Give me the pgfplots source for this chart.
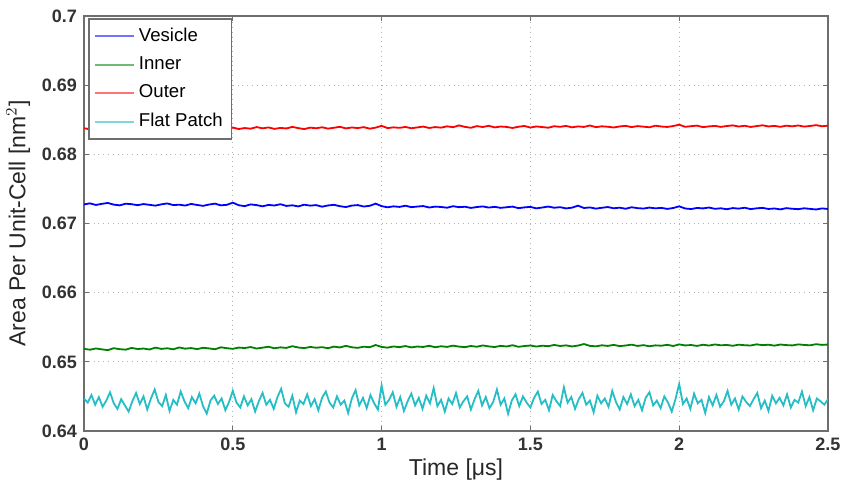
\documentclass[border=0pt]{standalone}
\usepackage{fontspec}
\setmainfont{Liberation Sans}
\usepackage{pgfplots}
\usepackage{pgfplotstable}
\pgfplotsset{compat=1.18}

\definecolor{mblue}{RGB}{0,0,255}
\definecolor{mgreen}{RGB}{0,128,0}
\definecolor{mred}{RGB}{255,0,0}
\definecolor{mcyan}{RGB}{38,190,198}
\definecolor{axgray}{RGB}{110,110,110}

% Vesicle, x = 0:0.02:2.5
\pgfplotstableread[row sep=\\]{
y\\
0.67276\\ 0.67291\\ 0.67268\\ 0.67284\\ 0.67297\\ 0.67273\\ 0.67262\\ 0.67286\\ 0.67279\\ 0.67265\\
0.67281\\ 0.67270\\ 0.67258\\ 0.67277\\ 0.67290\\ 0.67266\\ 0.67272\\ 0.67259\\ 0.67283\\ 0.67268\\
0.67255\\ 0.67274\\ 0.67287\\ 0.67262\\ 0.67270\\ 0.67301\\ 0.67264\\ 0.67251\\ 0.67276\\ 0.67266\\
0.67248\\ 0.67269\\ 0.67260\\ 0.67279\\ 0.67254\\ 0.67263\\ 0.67247\\ 0.67272\\ 0.67258\\ 0.67266\\
0.67243\\ 0.67261\\ 0.67270\\ 0.67250\\ 0.67238\\ 0.67259\\ 0.67266\\ 0.67245\\ 0.67256\\ 0.67287\\
0.67251\\ 0.67234\\ 0.67248\\ 0.67240\\ 0.67257\\ 0.67236\\ 0.67245\\ 0.67252\\ 0.67231\\ 0.67244\\
0.67239\\ 0.67228\\ 0.67250\\ 0.67236\\ 0.67242\\ 0.67225\\ 0.67238\\ 0.67247\\ 0.67230\\ 0.67241\\
0.67226\\ 0.67235\\ 0.67244\\ 0.67222\\ 0.67233\\ 0.67240\\ 0.67219\\ 0.67231\\ 0.67245\\ 0.67228\\
0.67236\\ 0.67218\\ 0.67229\\ 0.67258\\ 0.67224\\ 0.67232\\ 0.67215\\ 0.67227\\ 0.67238\\ 0.67220\\
0.67229\\ 0.67213\\ 0.67235\\ 0.67222\\ 0.67216\\ 0.67230\\ 0.67219\\ 0.67226\\ 0.67211\\ 0.67224\\
0.67248\\ 0.67217\\ 0.67209\\ 0.67225\\ 0.67218\\ 0.67231\\ 0.67212\\ 0.67220\\ 0.67206\\ 0.67223\\
0.67215\\ 0.67228\\ 0.67208\\ 0.67219\\ 0.67226\\ 0.67210\\ 0.67217\\ 0.67204\\ 0.67222\\ 0.67213\\
0.67207\\ 0.67220\\ 0.67211\\ 0.67203\\ 0.67218\\ 0.67210\\
}\vesicle

% Inner
\pgfplotstableread[row sep=\\]{
y\\
0.65188\\ 0.65175\\ 0.65193\\ 0.65180\\ 0.65169\\ 0.65197\\ 0.65183\\ 0.65176\\ 0.65201\\ 0.65185\\
0.65192\\ 0.65178\\ 0.65205\\ 0.65187\\ 0.65196\\ 0.65181\\ 0.65208\\ 0.65190\\ 0.65199\\ 0.65184\\
0.65203\\ 0.65194\\ 0.65182\\ 0.65210\\ 0.65197\\ 0.65188\\ 0.65206\\ 0.65199\\ 0.65214\\ 0.65192\\
0.65205\\ 0.65218\\ 0.65196\\ 0.65209\\ 0.65201\\ 0.65226\\ 0.65207\\ 0.65198\\ 0.65215\\ 0.65204\\
0.65212\\ 0.65197\\ 0.65220\\ 0.65208\\ 0.65231\\ 0.65210\\ 0.65202\\ 0.65219\\ 0.65211\\ 0.65243\\
0.65215\\ 0.65205\\ 0.65222\\ 0.65212\\ 0.65228\\ 0.65209\\ 0.65221\\ 0.65215\\ 0.65232\\ 0.65211\\
0.65225\\ 0.65216\\ 0.65234\\ 0.65220\\ 0.65212\\ 0.65229\\ 0.65218\\ 0.65237\\ 0.65223\\ 0.65214\\
0.65231\\ 0.65222\\ 0.65240\\ 0.65217\\ 0.65228\\ 0.65236\\ 0.65221\\ 0.65233\\ 0.65226\\ 0.65244\\
0.65229\\ 0.65238\\ 0.65222\\ 0.65235\\ 0.65257\\ 0.65231\\ 0.65224\\ 0.65239\\ 0.65230\\ 0.65245\\
0.65227\\ 0.65236\\ 0.65248\\ 0.65230\\ 0.65241\\ 0.65225\\ 0.65238\\ 0.65233\\ 0.65246\\ 0.65229\\
0.65252\\ 0.65237\\ 0.65243\\ 0.65230\\ 0.65247\\ 0.65235\\ 0.65251\\ 0.65239\\ 0.65244\\ 0.65232\\
0.65248\\ 0.65240\\ 0.65236\\ 0.65253\\ 0.65241\\ 0.65247\\ 0.65234\\ 0.65250\\ 0.65242\\ 0.65237\\
0.65252\\ 0.65244\\ 0.65239\\ 0.65255\\ 0.65245\\ 0.65250\\
}\inner

% Outer
\pgfplotstableread[row sep=\\]{
y\\
0.68378\\ 0.68362\\ 0.68385\\ 0.68370\\ 0.68356\\ 0.68381\\ 0.68367\\ 0.68390\\ 0.68372\\ 0.68359\\
0.68377\\ 0.68364\\ 0.68388\\ 0.68371\\ 0.68355\\ 0.68380\\ 0.68366\\ 0.68374\\ 0.68392\\ 0.68361\\
0.68378\\ 0.68369\\ 0.68383\\ 0.68358\\ 0.68375\\ 0.68387\\ 0.68366\\ 0.68380\\ 0.68371\\ 0.68394\\
0.68376\\ 0.68389\\ 0.68368\\ 0.68382\\ 0.68374\\ 0.68397\\ 0.68379\\ 0.68365\\ 0.68386\\ 0.68377\\
0.68391\\ 0.68372\\ 0.68384\\ 0.68398\\ 0.68375\\ 0.68388\\ 0.68380\\ 0.68393\\ 0.68371\\ 0.68386\\
0.68412\\ 0.68379\\ 0.68390\\ 0.68383\\ 0.68396\\ 0.68377\\ 0.68389\\ 0.68401\\ 0.68381\\ 0.68394\\
0.68386\\ 0.68405\\ 0.68392\\ 0.68418\\ 0.68397\\ 0.68384\\ 0.68408\\ 0.68395\\ 0.68413\\ 0.68389\\
0.68402\\ 0.68396\\ 0.68381\\ 0.68399\\ 0.68410\\ 0.68387\\ 0.68403\\ 0.68394\\ 0.68385\\ 0.68406\\
0.68398\\ 0.68411\\ 0.68390\\ 0.68404\\ 0.68396\\ 0.68417\\ 0.68393\\ 0.68405\\ 0.68399\\ 0.68388\\
0.68403\\ 0.68412\\ 0.68394\\ 0.68408\\ 0.68400\\ 0.68391\\ 0.68414\\ 0.68402\\ 0.68396\\ 0.68409\\
0.68428\\ 0.68398\\ 0.68407\\ 0.68415\\ 0.68393\\ 0.68404\\ 0.68411\\ 0.68397\\ 0.68409\\ 0.68419\\
0.68402\\ 0.68413\\ 0.68396\\ 0.68408\\ 0.68420\\ 0.68403\\ 0.68411\\ 0.68398\\ 0.68414\\ 0.68405\\
0.68417\\ 0.68401\\ 0.68410\\ 0.68422\\ 0.68406\\ 0.68414\\
}\outer

% Flat patch, x = 0:0.0125:2.5
\pgfplotstableread[row sep=\\]{
y\\
0.6447\\ 0.6441\\ 0.6452\\ 0.6438\\ 0.6449\\ 0.6435\\ 0.6444\\ 0.6456\\ 0.6440\\ 0.6432\\
0.6446\\ 0.6437\\ 0.6428\\ 0.6443\\ 0.6455\\ 0.6439\\ 0.6450\\ 0.6431\\ 0.6447\\ 0.6460\\
0.6442\\ 0.6436\\ 0.6452\\ 0.6429\\ 0.6445\\ 0.6438\\ 0.6457\\ 0.6443\\ 0.6433\\ 0.6449\\
0.6440\\ 0.6454\\ 0.6436\\ 0.6425\\ 0.6444\\ 0.6451\\ 0.6439\\ 0.6447\\ 0.6430\\ 0.6442\\
0.6458\\ 0.6441\\ 0.6434\\ 0.6450\\ 0.6437\\ 0.6446\\ 0.6428\\ 0.6443\\ 0.6455\\ 0.6438\\
0.6445\\ 0.6432\\ 0.6449\\ 0.6461\\ 0.6440\\ 0.6435\\ 0.6451\\ 0.6427\\ 0.6444\\ 0.6439\\
0.6453\\ 0.6436\\ 0.6446\\ 0.6430\\ 0.6448\\ 0.6457\\ 0.6441\\ 0.6434\\ 0.6450\\ 0.6438\\
0.6444\\ 0.6426\\ 0.6447\\ 0.6459\\ 0.6437\\ 0.6448\\ 0.6433\\ 0.6452\\ 0.6440\\ 0.6431\\
0.6466\\ 0.6438\\ 0.6445\\ 0.6456\\ 0.6435\\ 0.6449\\ 0.6429\\ 0.6443\\ 0.6454\\ 0.6437\\
0.6448\\ 0.6432\\ 0.6451\\ 0.6440\\ 0.6462\\ 0.6436\\ 0.6445\\ 0.6428\\ 0.6447\\ 0.6439\\
0.6455\\ 0.6434\\ 0.6443\\ 0.6450\\ 0.6431\\ 0.6446\\ 0.6458\\ 0.6437\\ 0.6449\\ 0.6433\\
0.6442\\ 0.6460\\ 0.6438\\ 0.6447\\ 0.6425\\ 0.6444\\ 0.6453\\ 0.6436\\ 0.6450\\ 0.6441\\
0.6434\\ 0.6448\\ 0.6457\\ 0.6439\\ 0.6445\\ 0.6430\\ 0.6452\\ 0.6443\\ 0.6436\\ 0.6463\\
0.6441\\ 0.6449\\ 0.6432\\ 0.6446\\ 0.6455\\ 0.6438\\ 0.6444\\ 0.6427\\ 0.6451\\ 0.6440\\
0.6447\\ 0.6435\\ 0.6458\\ 0.6442\\ 0.6431\\ 0.6449\\ 0.6439\\ 0.6453\\ 0.6436\\ 0.6445\\
0.6430\\ 0.6448\\ 0.6456\\ 0.6437\\ 0.6444\\ 0.6433\\ 0.6450\\ 0.6441\\ 0.6428\\ 0.6446\\
0.6468\\ 0.6439\\ 0.6447\\ 0.6432\\ 0.6454\\ 0.6440\\ 0.6445\\ 0.6426\\ 0.6449\\ 0.6437\\
0.6452\\ 0.6435\\ 0.6443\\ 0.6458\\ 0.6438\\ 0.6447\\ 0.6431\\ 0.6450\\ 0.6442\\ 0.6436\\
0.6446\\ 0.6455\\ 0.6433\\ 0.6444\\ 0.6429\\ 0.6451\\ 0.6440\\ 0.6448\\ 0.6437\\ 0.6453\\
0.6434\\ 0.6445\\ 0.6441\\ 0.6457\\ 0.6436\\ 0.6449\\ 0.6430\\ 0.6447\\ 0.6443\\ 0.6438\\
0.6446\\
}\flat

\begin{document}
\begin{tikzpicture}
\useasboundingbox (-42pt,-30pt) rectangle (379.5pt,215.5pt);
\begin{axis}[scale only axis, width=372pt, height=207.5pt,
  xmin=0, xmax=2.5, ymin=0.64, ymax=0.7,
  xtick={0,0.5,...,2.5}, ytick={0.64,0.65,...,0.7},
  yticklabel style={/pgf/number format/fixed, /pgf/number format/precision=2},
  xticklabel style={/pgf/number format/fixed},
  /pgf/number format/assume math mode=true,
  tick label style={font=\fontsize{9}{10.8}\selectfont\bfseries, text=black!80},
  label style={font=\fontsize{11.5}{13.5}\selectfont, text=black!85},
  xlabel={Time [μs]}, ylabel={Area Per Unit-Cell [nm$^2$]},
  xlabel style={yshift=3pt}, ylabel style={yshift=-1pt},
  tick align=inside, major tick length=2.5pt,
  axis line style={axgray, line width=0.8pt},
  tick style={axgray, line width=0.6pt},
  grid=major, major grid style={gray!60, dotted, line width=0.5pt},
  legend cell align=left,
  legend style={at={(axis description cs:0.006,0.995)}, anchor=north west,
    draw=axgray, line width=0.8pt, fill=white,
    font=\fontsize{9.3}{11}\selectfont, row sep=2.2pt,
    inner sep=2.5pt},
  legend image code/.code={\draw[#1, line width=1pt] (0cm,0cm) -- (0.68cm,0cm);},
]
\addplot[mcyan, line width=0.9pt, forget plot] table[x expr=\coordindex*0.0125, y=y] {\flat};
\addplot[mgreen, line width=0.9pt, forget plot] table[x expr=\coordindex*0.02, y=y] {\inner};
\addplot[mblue, line width=0.9pt, forget plot] table[x expr=\coordindex*0.02, y=y] {\vesicle};
\addplot[mred, line width=0.9pt, forget plot] table[x expr=\coordindex*0.02, y=y] {\outer};
\addlegendimage{mblue!55}
\addlegendentry{Vesicle}
\addlegendimage{mgreen!55}
\addlegendentry{Inner}
\addlegendimage{mred!55}
\addlegendentry{Outer}
\addlegendimage{mcyan!60}
\addlegendentry{Flat Patch}
\end{axis}
\end{tikzpicture}
\end{document}
